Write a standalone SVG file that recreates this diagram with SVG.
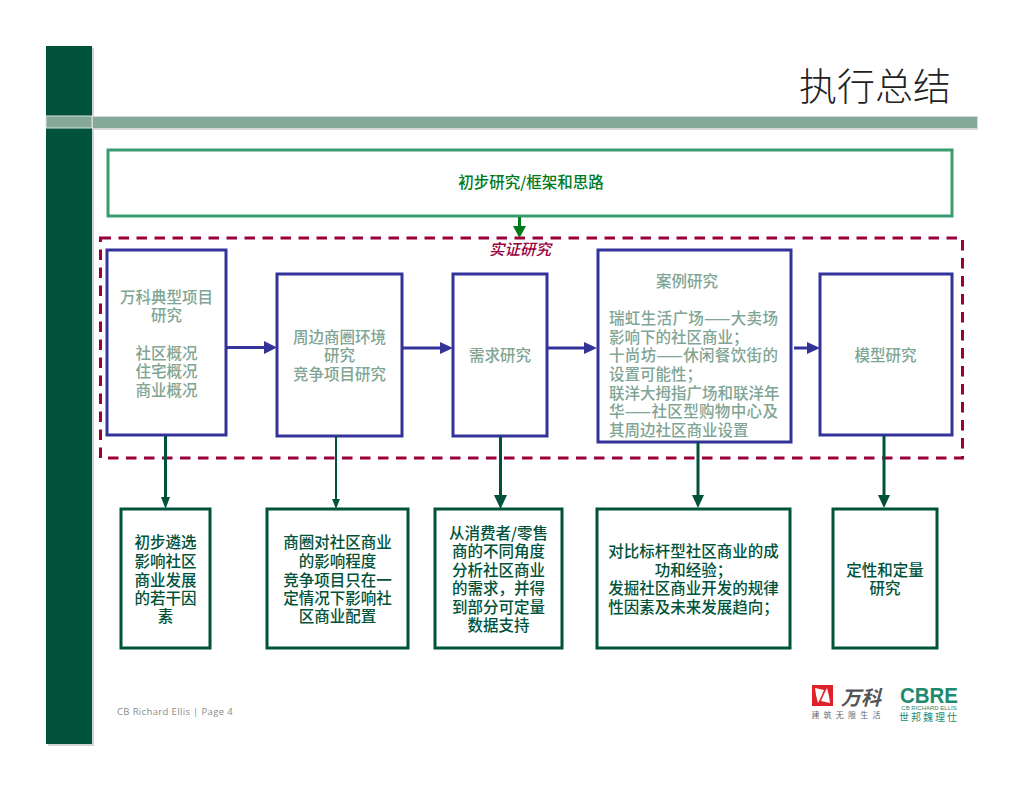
<svg xmlns="http://www.w3.org/2000/svg" width="1024" height="791" viewBox="0 0 1024 791">
<style>
text{font-family:"Noto Sans CJK SC","Liberation Serif",serif;text-anchor:middle}
.b{fill:#fff;stroke:#333399;stroke-width:3}
.g{fill:#fff;stroke:#00533a;stroke-width:3}
.m{fill:#7fa594;font-size:15.5px;font-weight:500}
.d{fill:#00533a;font-size:15.5px;font-weight:500}
.s{text-anchor:start}
.pa{stroke:#333399;stroke-width:3;fill:none}
.ga{stroke:#00533a;stroke-width:3;fill:none}
</style>
<rect width="1024" height="791" fill="#fff"/>
<g id="frame">
<rect x="48" y="48" width="46" height="698" fill="#d4d4d4"/>
<rect x="94" y="116" width="884" height="14" fill="#d8d8d8"/>
<rect x="46" y="46" width="46" height="698" fill="#00533a"/>
<rect x="93" y="117" width="884" height="11" fill="#84a99a"/>
<rect x="46" y="116" width="46" height="12" fill="#84a99a" stroke="#d8e4de" stroke-width="1"/>
</g>
<text id="title" x="875" y="100" font-size="38" fill="#222" font-weight="300">执行总结</text>
<g id="dashed-frame">
<rect x="100.500" y="238" width="862" height="220" fill="none" stroke="#99003c" stroke-width="3" stroke-dasharray="10.500 7.500"/>
</g>
<g id="top-box">
<rect x="108" y="150" width="844" height="66" fill="#fff" stroke="#3a9b6e" stroke-width="3"/>
<text x="531" y="188" font-size="15.500" font-weight="500" fill="#007a1e">初步研究/框架和思路</text>
</g>
<text id="dashed-label" x="520" y="255" font-size="15.500" font-style="italic" font-weight="500" fill="#99003c">实证研究</text>
<g id="n1"><rect class="b" x="107" y="250" width="119" height="185"/>
<text class="m"><tspan x="166.500" y="303">万科典型项目</tspan><tspan x="166.500" y="321">研究</tspan><tspan x="166.500" y="359">社区概况</tspan><tspan x="166.500" y="377">住宅概况</tspan><tspan x="166.500" y="396">商业概况</tspan></text></g>
<g id="n2"><rect class="b" x="277" y="274" width="125" height="162"/>
<text class="m"><tspan x="339.500" y="343">周边商圈环境</tspan><tspan x="339.500" y="361">研究</tspan><tspan x="339.500" y="380">竞争项目研究</tspan></text></g>
<g id="n3"><rect class="b" x="453" y="274" width="94" height="162"/>
<text class="m" x="500" y="361">需求研究</text></g>
<g id="n4"><rect class="b" x="598" y="250" width="193" height="192"/>
<text class="m" x="687" y="287">案例研究</text>
<text class="m s" x="609" y="324" textLength="169">瑞虹生活广场——大卖场</text>
<text class="m s" x="609" y="343">影响下的社区商业；</text>
<text class="m s" x="609" y="361" textLength="169">十尚坊——休闲餐饮街的</text>
<text class="m s" x="609" y="380">设置可能性；</text>
<text class="m s" x="609" y="399">联洋大拇指广场和联洋年</text>
<text class="m s" x="609" y="417" textLength="169">华——社区型购物中心及</text>
<text class="m s" x="609" y="436">其周边社区商业设置</text></g>
<g id="n5"><rect class="b" x="820" y="274" width="132" height="161"/>
<text class="m" x="885.500" y="361">模型研究</text></g>
<g id="r1"><rect class="g" x="121" y="509" width="89" height="139"/>
<text class="d"><tspan x="165.500" y="548">初步遴选</tspan><tspan x="165.500" y="567">影响社区</tspan><tspan x="165.500" y="586">商业发展</tspan><tspan x="165.500" y="604">的若干因</tspan><tspan x="165.500" y="622">素</tspan></text></g>
<g id="r2"><rect class="g" x="267" y="509" width="141" height="139"/>
<text class="d"><tspan x="337.500" y="548">商圈对社区商业</tspan><tspan x="337.500" y="567">的影响程度</tspan><tspan x="337.500" y="586">竞争项目只在一</tspan><tspan x="337.500" y="604">定情况下影响社</tspan><tspan x="337.500" y="622">区商业配置</tspan></text></g>
<g id="r3"><rect class="g" x="435" y="509" width="127" height="139"/>
<text class="d"><tspan x="498.500" y="539">从消费者/零售</tspan><tspan x="498.500" y="557">商的不同角度</tspan><tspan x="498.500" y="576">分析社区商业</tspan><tspan x="498.500" y="594">的需求，并得</tspan><tspan x="498.500" y="613">到部分可定量</tspan><tspan x="498.500" y="631">数据支持</tspan></text></g>
<g id="r4"><rect class="g" x="597" y="509" width="193" height="139"/>
<text class="d"><tspan x="693.500" y="557">对比标杆型社区商业的成</tspan><tspan x="693.500" y="576">功和经验；</tspan><tspan x="693.500" y="594">发掘社区商业开发的规律</tspan><tspan x="693.500" y="613">性因素及未来发展趋向；</tspan></text></g>
<g id="r5"><rect class="g" x="833" y="509" width="104" height="139"/>
<text class="d"><tspan x="885" y="576">定性和定量</tspan><tspan x="885" y="594">研究</tspan></text></g>
<g id="connectors">
<path d="M519.500 217V228" stroke="#007a1e" stroke-width="3" fill="none"/><path d="M513 226H526L519.500 238Z" fill="#007a1e"/>
<path class="pa" d="M227 347.500H265"/><path d="M264 341L277 347.500L264 354Z" fill="#333399"/>
<path class="pa" d="M403 348H441"/><path d="M440 342L453 348L440 354Z" fill="#333399"/>
<path class="pa" d="M548 348H585"/><path d="M584 342L597 348L584 354Z" fill="#333399"/>
<path class="pa" d="M794 348H809"/><path d="M807 342L820 348L807 354Z" fill="#333399"/>
<path class="ga" d="M165.500 436V498"/><path d="M161 497H170L165.500 509Z" fill="#00533a"/>
<path class="ga" style="stroke-width:2" d="M336 436V500"/><path d="M332 499H340L336 509Z" fill="#00533a"/>
<path class="ga" d="M500.500 436V497"/><path d="M494 495H507L500.500 509Z" fill="#00533a"/>
<path class="ga" d="M698 442V497"/><path d="M692 495H704L698 508Z" fill="#00533a"/>
<path class="ga" d="M884 436V497"/><path d="M878 495H890L884 508Z" fill="#00533a"/>
</g>
<text id="footer" x="117" y="715" font-size="9.500" letter-spacing=".35" fill="#8a8a8a" style="font-family:'Open Sans','Liberation Sans',sans-serif;text-anchor:start">CB Richard Ellis | Page 4</text>
<g id="logo-vanke">
<rect x="812" y="685" width="21" height="21" fill="#e0202a"/>
<path d="M815 688L824 690L821 697L818 703L816 695ZM830 703L821 701L824 694L827 688L829 696Z" fill="#fff"/>
<text x="861" y="705" font-size="20" font-weight="700" font-style="italic" fill="#555">万科</text>
<text x="848" y="718" font-size="8" letter-spacing="4.200" fill="#666">建筑无限生活</text>
</g>
<g id="logo-cbre">
<text x="929" y="703" font-size="22" font-weight="700" fill="#1f8a70" textLength="58" lengthAdjust="spacingAndGlyphs" style="font-family:'Liberation Sans',sans-serif">CBRE</text>
<text x="929" y="709.500" font-size="6" fill="#1f8a70" style="font-family:'Liberation Sans',sans-serif">CB RICHARD ELLIS</text>
<text x="929" y="720.500" font-size="10" letter-spacing="2" fill="#1f8a70">世邦魏理仕</text>
</g>
</svg>
